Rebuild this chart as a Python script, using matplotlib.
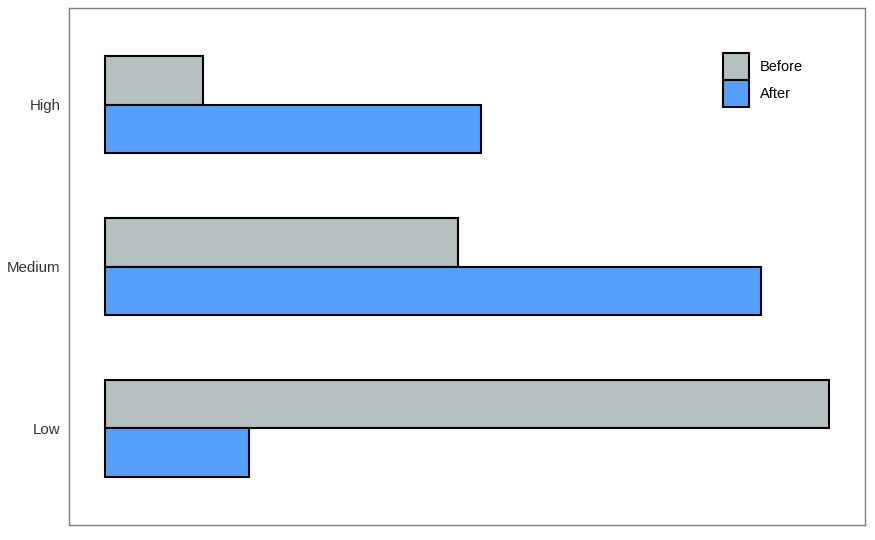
import numpy as np
import matplotlib
matplotlib.use('Agg')
from matplotlib import pyplot as plt

plt.rcParams['font.family'] = ['Liberation Sans', 'DejaVu Sans']

# data (no value axis shown, relative scale)
categories = ['Low', 'Medium', 'High']
before = [100, 48.8, 13.5]
after = [19.9, 90.6, 51.9]
series_names = ['Before', 'After']
colors = ['#b5c1c0', '#56a0fb']

fig = plt.figure(figsize=(8.75, 5.4), dpi=100)
ax = fig.add_axes([69 / 875, 15 / 540, 796 / 875, 517 / 540])

y = np.arange(1, len(categories) + 1)
h = 0.3
ax.barh(y + h / 2, before, height=h, color=colors[0], edgecolor='black',
        linewidth=1.5, label=series_names[0])
ax.barh(y - h / 2, after, height=h, color=colors[1], edgecolor='black',
        linewidth=1.5, label=series_names[1])

ax.set_xlim(-5, 105)
ax.set_ylim(0.4, 3.6)
ax.set_yticks(y)
ax.set_yticklabels(categories, fontsize=10.8, color='#333333')
ax.set_xticks([])
ax.tick_params(axis='y', length=0, pad=6)
for s in ax.spines.values():
    s.set_color('#7f7f7f')
    s.set_linewidth(1.0)

# legend: square keys stacked with no gap, top right
leg = ax.legend(loc='upper left', bbox_to_anchor=((723 - 69) / 796, 1 - 45 / 517),
                frameon=False, fontsize=10.5, borderpad=0, borderaxespad=0,
                handlelength=1.8, handleheight=2.45,
                handletextpad=0.75, labelspacing=0.0)

fig.savefig('out.png', dpi=100)
